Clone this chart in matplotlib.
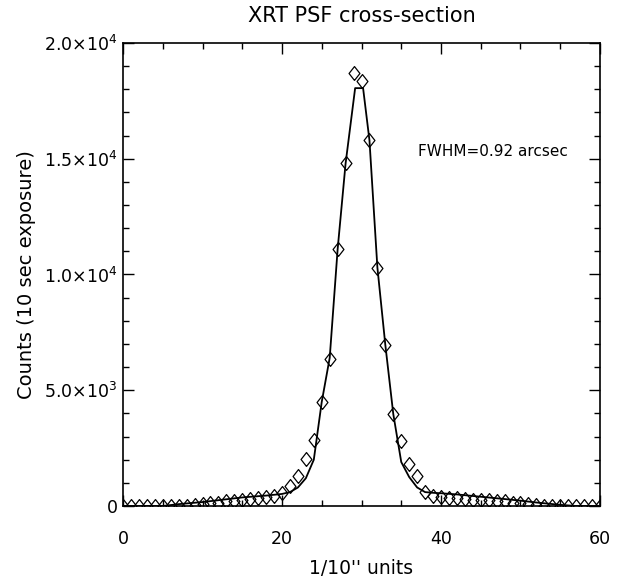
import matplotlib.pyplot as plt
from matplotlib.ticker import MultipleLocator, FuncFormatter

plt.rcParams['font.family'] = ['DejaVu Sans']

# measured counts at each 1/10" position (diamonds)
pix = list(range(0, 61))
counts = [0, 0, 0, 0, 0, 0, 0, 0, 0, 50,
          100, 120, 150, 200, 220, 250, 300, 350, 400, 450,
          550, 850, 1300, 2050, 2850, 4500, 6350, 11100, 14800, 18700,
          18350, 15800, 10300, 6950, 3970, 2800, 1800, 1300, 600, 450,
          400, 350, 330, 300, 280, 270, 250, 220, 200, 150,
          120, 100, 50, 0, 0, 0, 0, 0, 0, 0, 0]

# fitted PSF profile (solid line)
fit_x = [0, 5, 7, 10, 12, 15, 18, 20, 21, 22, 23, 24, 25, 26, 27, 28, 29.2,
         30.2, 31, 32, 33, 34, 35, 36, 37, 38, 39, 40, 42, 45, 48, 50, 52, 55, 57, 60]
fit_y = [0, 0, 80, 170, 250, 370, 450, 520, 600, 800, 1200, 2000, 4500, 6400,
         11100, 14800, 18050, 18050, 15800, 10300, 6950, 3970, 1900, 1250, 800,
         600, 570, 550, 500, 400, 300, 230, 150, 50, 0, 0]

# slightly tall open diamond, like the IDL psym=4 symbol
diamond = [(0, -1.15), (0.9, 0), (0, 1.15), (-0.9, 0), (0, -1.15)]

fig = plt.figure(figsize=(6.17, 5.81), dpi=100)
ax = fig.add_axes([0.1994, 0.1291, 0.7730, 0.7969])

ax.plot(fit_x, fit_y, color='black', lw=1.3)
ax.plot(pix, counts, linestyle='none', marker=diamond, markersize=10,
        markerfacecolor='none', markeredgecolor='black', markeredgewidth=0.9)

ax.set_xlim(0, 60)
ax.set_ylim(0, 20000)
ax.xaxis.set_major_locator(MultipleLocator(20))
ax.xaxis.set_minor_locator(MultipleLocator(5))
ax.yaxis.set_major_locator(MultipleLocator(5000))
ax.yaxis.set_minor_locator(MultipleLocator(1000))


def yfmt(v, pos):
    if v == 0:
        return '0'
    e = 4 if v >= 10000 else 3
    return r'$%.1f{\times}10^{%d}$' % (v / 10 ** e, e)


ax.yaxis.set_major_formatter(FuncFormatter(yfmt))
ax.tick_params(which='both', direction='in', top=True, right=True, width=1)
ax.tick_params(which='major', length=8, labelsize=12.5)
ax.tick_params(which='minor', length=4)
ax.tick_params(axis='x', pad=17)
ax.tick_params(axis='y', pad=4)
for s in ax.spines.values():
    s.set_linewidth(1.2)

ax.set_title('XRT PSF cross-section', fontsize=15, pad=15)
ax.set_xlabel("1/10'' units", fontsize=13.5, labelpad=8)
ax.set_ylabel('Counts (10 sec exposure)', fontsize=14, labelpad=6)
ax.text(37.1, 15300, 'FWHM=0.92 arcsec', fontsize=11, va='center')

fig.savefig('out.png', dpi=100)
